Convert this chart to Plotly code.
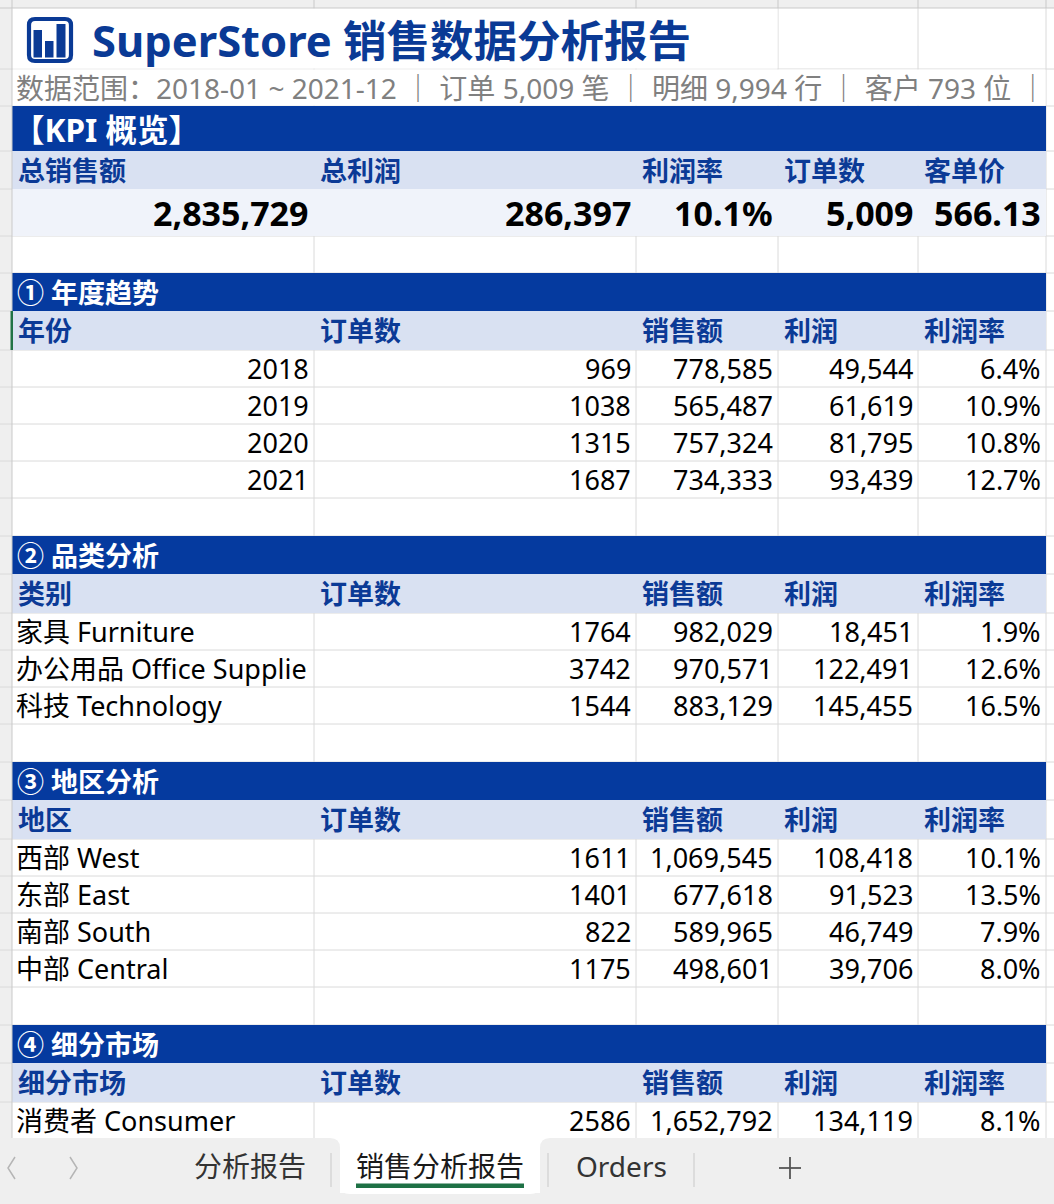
import plotly.graph_objects as go

# ---------------- data ----------------
report_title = "SuperStore 销售数据分析报告"
report_subtitle = "数据范围：2018-01 ~ 2021-12 ｜ 订单 5,009 笔 ｜ 明细 9,994 行 ｜ 客户 793 位 ｜"

kpi_section = "【KPI 概览】"
kpi_labels = ["总销售额", "总利润", "利润率", "订单数", "客单价"]
kpi_total_sales = 2835729
kpi_total_profit = 286397
kpi_margin = 10.1
kpi_orders = 5009
kpi_avg_order = 566.13

metric_headers = ["订单数", "销售额", "利润", "利润率"]

years = ["2018", "2019", "2020", "2021"]
year_orders = [969, 1038, 1315, 1687]
year_sales = [778585, 565487, 757324, 734333]
year_profit = [49544, 61619, 81795, 93439]
year_margin = [6.4, 10.9, 10.8, 12.7]

categories = ["家具 Furniture", "办公用品 Office Supplies", "科技 Technology"]
cat_orders = [1764, 3742, 1544]
cat_sales = [982029, 970571, 883129]
cat_profit = [18451, 122491, 145455]
cat_margin = [1.9, 12.6, 16.5]

regions = ["西部 West", "东部 East", "南部 South", "中部 Central"]
reg_orders = [1611, 1401, 822, 1175]
reg_sales = [1069545, 677618, 589965, 498601]
reg_profit = [108418, 91523, 46749, 39706]
reg_margin = [10.1, 13.5, 7.9, 8.0]

segments = ["消费者 Consumer"]
seg_orders = [2586]
seg_sales = [1652792]
seg_profit = [134119]
seg_margin = [8.1]

section_titles = ["① 年度趋势", "② 品类分析", "③ 地区分析", "④ 细分市场"]
section_first_headers = ["年份", "类别", "地区", "细分市场"]

sheet_tabs = ["分析报告", "销售分析报告", "Orders"]
active_tab = "销售分析报告"

# table object built from the arrays above
sections = [
    dict(title=section_titles[0], first=section_first_headers[0], labels=years, label_right=True,
         orders=year_orders, sales=year_sales, profit=year_profit, margin=year_margin),
    dict(title=section_titles[1], first=section_first_headers[1], labels=categories, label_right=False,
         orders=cat_orders, sales=cat_sales, profit=cat_profit, margin=cat_margin),
    dict(title=section_titles[2], first=section_first_headers[2], labels=regions, label_right=False,
         orders=reg_orders, sales=reg_sales, profit=reg_profit, margin=reg_margin),
    dict(title=section_titles[3], first=section_first_headers[3], labels=segments, label_right=False,
         orders=seg_orders, sales=seg_sales, profit=seg_profit, margin=seg_margin),
]

# ---------------- style / layout ----------------
W, H = 1054, 1204
COLS = [12, 314, 636, 778, 918, 1046]
TOP = 8
TAB_TOP = 1138

BAND = "#053a9f"
TITLE_BLUE = "#0a3a95"
HDR_FILL = "#d9e1f2"
KPI_FILL = "#f0f3fa"
HDR_TEXT = "#0b3a96"
GRID = "#dadada"
STRIP = "#efefef"
STRIP_LINE = "#c9c9c9"
FONT = "Noto Sans, Noto Sans CJK SC, sans-serif"

def f_int(v):
    return f"{v:,}"

def f_pct(v):
    return f"{v:.1f}%"

rows = []
_y = [TOP]

def add_row(kind, h, **kw):
    rows.append(dict(kind=kind, y0=_y[0], y1=_y[0] + h, **kw))
    _y[0] += h

add_row("title", 61)
add_row("subtitle", 37)
add_row("kband", 45)
add_row("khead", 38)
add_row("kval", 47)
add_row("blank", 37)
for i, sec in enumerate(sections):
    add_row("band", 38, text=sec["title"])
    add_row("head", 39, labels=[sec["first"]] + metric_headers)
    for j, lab in enumerate(sec["labels"]):
        add_row("data", 37, label=lab, right=sec["label_right"],
                vals=[str(sec["orders"][j]), f_int(sec["sales"][j]),
                      f_int(sec["profit"][j]), f_pct(sec["margin"][j])])
    if i < len(sections) - 1:
        add_row("blank", 38)

shapes = []
annotations = []

def rect(x0, y0, x1, y1, fill, line_color=None, lw=0):
    shapes.append(dict(type="rect", xref="x", yref="y", x0=x0, y0=y0, x1=x1, y1=y1,
                       fillcolor=fill, line=dict(width=lw, color=line_color or fill)))

def seg(x0, y0, x1, y1, color, w=1):
    shapes.append(dict(type="line", xref="x", yref="y", x0=x0, y0=y0, x1=x1, y1=y1,
                       line=dict(color=color, width=w)))

def path(d, fill=None, color=None, w=0):
    sh = dict(type="path", xref="x", yref="y", path=d, line=dict(width=w, color=color or "rgba(0,0,0,0)"))
    if fill:
        sh["fillcolor"] = fill
    shapes.append(sh)

def rrect_path(x0, y0, x1, y1, r):
    d = f"M {x0+r} {y0} L {x1-r} {y0} Q {x1} {y0} {x1} {y0+r} "
    d += f"L {x1} {y1-r} Q {x1} {y1} {x1-r} {y1} "
    d += f"L {x0+r} {y1} Q {x0} {y1} {x0} {y1-r} "
    d += f"L {x0} {y0+r} Q {x0} {y0} {x0+r} {y0} "
    return d + "Z"

def text(x, y, s, size=27, color="#000000", bold=False, anchor="left", family=FONT, width=None):
    a = dict(x=x, y=y, xref="x", yref="y", text=s, showarrow=False, xanchor=anchor, yanchor="middle",
             font=dict(family=family, size=size, color=color, weight="bold" if bold else "normal"),
             borderpad=0)
    if width is not None:
        a["width"] = width
        a["align"] = anchor
    annotations.append(a)

# left row-header strip and top column-header strip
rect(0, 0, COLS[0], TAB_TOP, STRIP)
rect(0, 0, W, TOP, STRIP)

# gridlines
for x in COLS[1:]:
    seg(x, TOP, x, TAB_TOP, GRID)
for r in rows:
    seg(0, r["y1"], W, r["y1"], GRID)
for x in COLS[1:]:
    seg(x, 0, x, TOP, STRIP_LINE)

# cell fills / overflow covers
for r in rows:
    k, y0, y1 = r["kind"], r["y0"], r["y1"]
    if k == "title":
        rect(COLS[0] + 0.5, y0 + 0.5, COLS[3] - 0.5, y1 - 0.5, "#ffffff")
    elif k == "subtitle":
        rect(COLS[0] + 0.5, y0 + 0.5, COLS[5] - 0.5, y1 - 0.5, "#ffffff")
    elif k in ("kband", "band"):
        rect(COLS[0], y0, COLS[5], y1, BAND)
    elif k in ("khead", "head"):
        rect(COLS[0], y0, COLS[5], y1, HDR_FILL)
    elif k == "kval":
        rect(COLS[0], y0, COLS[5], y1, KPI_FILL)

seg(COLS[0], 0, COLS[0], TAB_TOP, STRIP_LINE)
seg(0, TOP, W, TOP, STRIP_LINE)
# selected-row marker
first_head = [r for r in rows if r["kind"] == "head"][0]
rect(COLS[0] - 1.5, first_head["y0"], COLS[0] + 1, first_head["y1"], "#217346")

# title icon
path(rrect_path(29, 19, 71, 61, 6), color=TITLE_BLUE, w=4.2)
for bx0, bx1, bt in [(33.5, 42, 30), (45, 53.5, 41), (56.5, 65.5, 24)]:
    rect(bx0, bt, bx1, 57.5, TITLE_BLUE)

# texts
for r in rows:
    k, yc = r["kind"], (r["y0"] + r["y1"]) / 2
    if k == "title":
        text(91, yc + 1.5, report_title, size=43.5, color=TITLE_BLUE, bold=True)
    elif k == "subtitle":
        text(15, yc, report_subtitle, size=28, color="#808080")
    elif k == "kband":
        text(12, yc + 1, kpi_section, size=31.5, color="#ffffff", bold=True)
    elif k == "khead":
        for c, lab in enumerate(kpi_labels):
            text(COLS[c] + 5, yc, lab, size=27, color=HDR_TEXT, bold=True)
    elif k == "kval":
        kv = [f_int(kpi_total_sales), f_int(kpi_total_profit), f_pct(kpi_margin),
              f_int(kpi_orders), f"{kpi_avg_order:.2f}"]
        for c, v in enumerate(kv):
            text(COLS[c + 1] - 4, yc, v, size=34, color="#000000", bold=True, anchor="right")
    elif k == "band":
        text(16, yc, r["text"], size=27, color="#ffffff", bold=True)
    elif k == "head":
        for c, lab in enumerate(r["labels"]):
            text(COLS[c] + 5, yc, lab, size=27, color=HDR_TEXT, bold=True)
    elif k == "data":
        if r["right"]:
            text(COLS[1] - 4, yc, r["label"], anchor="right")
        else:
            text(COLS[0] + 3, yc, r["label"], width=COLS[1] - COLS[0] - 11)
        for c, v in enumerate(r["vals"]):
            text(COLS[c + 2] - 4, yc, v, anchor="right")

# sheet tab bar
TAB_BG = "#efefef"
ACT_X0, ACT_X1 = 340, 540
rect(ACT_X0 - 12, TAB_TOP, ACT_X1 + 12, TAB_TOP + 14, "#ffffff")
path(rrect_path(-20, TAB_TOP, ACT_X0, H + 20, 10), fill=TAB_BG)
path(rrect_path(ACT_X1, TAB_TOP, W + 20, H + 20, 10), fill=TAB_BG)
rect(ACT_X0 - 12, 1193, ACT_X1 + 12, H, TAB_BG)
path(rrect_path(ACT_X0, TAB_TOP - 20, ACT_X1, 1194, 10), fill="#ffffff")
rect(356, 1183.5, 524, 1188, "#1e7145")
for sx in [331, 548, 694]:
    seg(sx, 1153, sx, 1187, "#cfcfcf", 1.2)
path("M 15 1157 L 8 1168 L 15 1179", color="#b5b5b5", w=1.5)
path("M 70 1157 L 77 1168 L 70 1179", color="#b5b5b5", w=1.5)
seg(779, 1168, 801, 1168, "#555555", 1.8)
seg(790, 1157, 790, 1179, "#555555", 1.8)
tab_centers = [250, 440, 621]
for name, cx in zip(sheet_tabs, tab_centers):
    text(cx, 1166, name, size=28, color="#1a1a1a" if name == active_tab else "#333333", anchor="center")

fig = go.Figure()
fig.update_layout(
    width=W, height=H, autosize=False,
    margin=dict(l=0, r=0, t=0, b=0, pad=0),
    paper_bgcolor="#ffffff", plot_bgcolor="#ffffff",
    xaxis=dict(range=[0, W], visible=False, fixedrange=True),
    yaxis=dict(range=[H, 0], visible=False, fixedrange=True),
    shapes=shapes, annotations=annotations, showlegend=False,
)
fig.write_html("out.html", config=dict(displayModeBar=False, staticPlot=True),
               post_script="document.body.style.margin='0';document.body.style.overflow='hidden';")
